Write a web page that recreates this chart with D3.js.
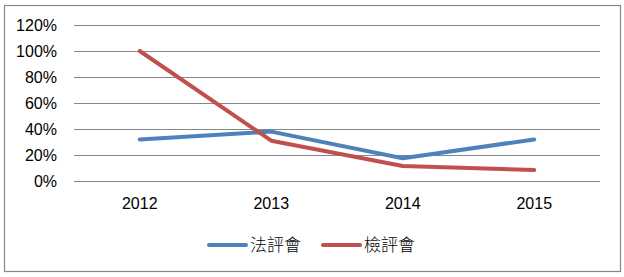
<!DOCTYPE html>
<html>
<head>
<meta charset="utf-8">
<script src="https://cdn.jsdelivr.net/npm/d3@7"></script>
<style>
  body { margin: 0; background: #fff; }
  text { font-family: "Liberation Sans", "Noto Sans", sans-serif; }
</style>
</head>
<body>
<div id="chart"></div>
<script>
(() => {

// data
const years = ["2012", "2013", "2014", "2015"];
const yTicks = [0, 0.2, 0.4, 0.6, 0.8, 1.0, 1.2];
const seriesNames = ["法評會", "檢評會"];
const fapinghui = [0.32, 0.38, 0.175, 0.32];
const jianpinghui = [1.0, 0.31, 0.115, 0.085];
const colors = ["#4F81BD", "#C0504D"];

const width = 624, height = 277;

const svg = d3.select("#chart")
  .append("svg")
  .attr("width", width)
  .attr("height", height);

// outer frame
svg.append("rect")
  .attr("x", 4.5).attr("y", 5.5)
  .attr("width", 616).attr("height", 266)
  .attr("fill", "#fff")
  .attr("stroke", "#878787")
  .attr("stroke-width", 1.2);

const x = d3.scaleBand()
  .domain(years)
  .range([74, 600]);

const y = d3.scaleLinear()
  .domain([0, 1.2])
  .range([181, 25]);

// gridlines
svg.append("g")
  .selectAll("line")
  .data(yTicks)
  .enter()
  .append("line")
  .attr("x1", 74).attr("x2", 600)
  .attr("y1", d => Math.round(y(d)) + 0.5)
  .attr("y2", d => Math.round(y(d)) + 0.5)
  .attr("stroke", "#868686")
  .attr("stroke-width", 1);

// y axis labels
const yAxis = d3.axisLeft(y)
  .tickValues(yTicks)
  .tickFormat(d3.format(".0%"))
  .tickSize(0)
  .tickPadding(0);

svg.append("g")
  .attr("transform", "translate(57,0)")
  .call(yAxis)
  .call(g => g.select(".domain").remove())
  .selectAll("text")
  .attr("font-size", 16)
  .attr("fill", "#000")
  .style("font-family", "'Liberation Sans', 'Noto Sans', sans-serif");

// x axis labels
const xAxis = d3.axisBottom(x).tickSize(0).tickPadding(0);
svg.append("g")
  .attr("transform", "translate(0,198)")
  .call(xAxis)
  .call(g => g.select(".domain").remove())
  .selectAll("text")
  .attr("font-size", 16)
  .attr("fill", "#000")
  .style("font-family", "'Liberation Sans', 'Noto Sans', sans-serif");

// lines
const line = d3.line()
  .x((d, i) => x(years[i]) + x.bandwidth() / 2)
  .y(d => y(d));

[fapinghui, jianpinghui].forEach((vals, i) => {
  svg.append("path")
    .datum(vals)
    .attr("d", line)
    .attr("fill", "none")
    .attr("stroke", colors[i])
    .attr("stroke-width", 4)
    .attr("stroke-linejoin", "round")
    .attr("stroke-linecap", "round");
});

// legend
const legendX = [209, 323];
const legend = svg.append("g");
seriesNames.forEach((name, i) => {
  legend.append("line")
    .attr("x1", legendX[i]).attr("x2", legendX[i] + 37)
    .attr("y1", 245).attr("y2", 245)
    .attr("stroke", colors[i])
    .attr("stroke-width", 4)
    .attr("stroke-linecap", "round");
  legend.append("text")
    .attr("x", legendX[i] + 41)
    .attr("y", 251)
    .attr("font-size", 17)
    .attr("font-weight", 300)
    .style("font-family", "'Noto Sans CJK TC', sans-serif")
    .text(name);
});

})();
</script>
</body>
</html>
